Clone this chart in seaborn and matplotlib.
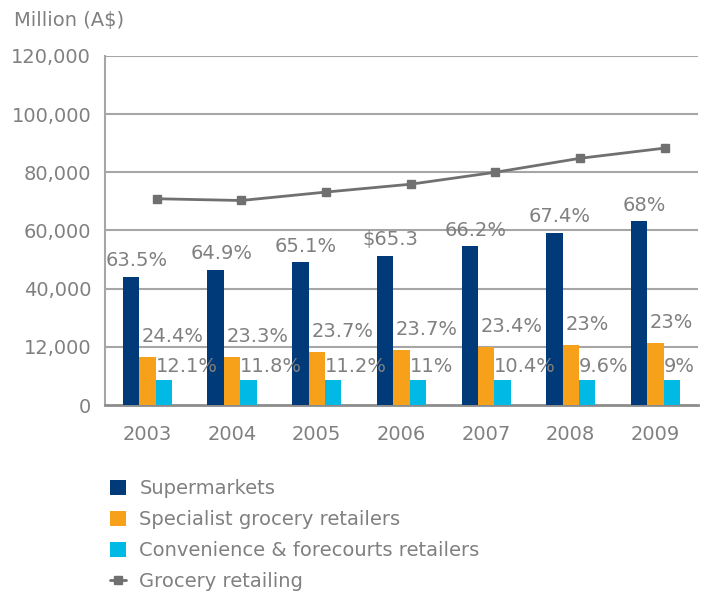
import matplotlib
matplotlib.use("Agg")
import matplotlib.pyplot as plt
from matplotlib.patches import Patch
from matplotlib.lines import Line2D
import seaborn as sns
import pandas as pd
import numpy as np

# data
years = ["2003", "2004", "2005", "2006", "2007", "2008", "2009"]
supermarkets = [44100, 46500, 49000, 51400, 54500, 59300, 63100]
specialist = [16500, 16500, 18300, 19000, 19800, 20700, 21400]
convenience = [8600, 8600, 8600, 8600, 8600, 8600, 8600]
grocery_total = [70900, 70300, 73200, 75900, 80000, 84800, 88300]

sup_labels = ["63.5%", "64.9%", "65.1%", "\\$65.3", "66.2%", "67.4%", "68%"]
spec_labels = ["24.4%", "23.3%", "23.7%", "23.7%", "23.4%", "23%", "23%"]
conv_labels = ["12.1%", "11.8%", "11.2%", "11%", "10.4%", "9.6%", "9%"]

series_names = ["Supermarkets", "Specialist grocery retailers",
                "Convenience & forecourts retailers"]
line_name = "Grocery retailing"
ytick_vals = [0, 20000, 40000, 60000, 80000, 100000, 120000]
ytick_text = ["0", "12,000", "40,000", "60,000", "80,000", "100,000", "120,000"]

colors = ["#003a78", "#f7a11a", "#00b9e4"]
line_color = "#707070"
text_color = "#808080"
grid_color = "#a6a6a6"
fs = 14

sns.set_style("white")
plt.rcParams["font.family"] = ["DejaVu Sans"]

df = pd.DataFrame({
    "year": years * 3,
    "value": supermarkets + specialist + convenience,
    "series": [s for s in series_names for _ in years],
})

fig = plt.figure(figsize=(7.12, 5.94), dpi=100)
ax = fig.add_axes([0.1475, 0.318, 0.8325, 0.588])

sns.barplot(data=df, x="year", y="value", hue="series", palette=colors,
            width=0.58, saturation=1, linewidth=0, legend=False, ax=ax,
            zorder=3)

# the total line sits a little to the right of each bar group
x_line = np.arange(len(years)) + 0.11
ax.plot(x_line, grocery_total, color=line_color, lw=2, marker="s",
        markersize=6, zorder=4)

ax.set_xlim(-0.5, len(years) - 0.5)
ax.set_ylim(0, 120000)
ax.set_yticks(ytick_vals)
ax.set_yticklabels(ytick_text)
for y in ytick_vals[1:]:
    ax.axhline(y, color=grid_color, lw=1.5, zorder=1)

ax.tick_params(axis="both", length=0, labelsize=fs, colors=text_color)
ax.tick_params(axis="y", pad=10)
ax.tick_params(axis="x", pad=14)
ax.set_xlabel("")
ax.set_ylabel("")

for side in ["top", "right"]:
    ax.spines[side].set_visible(False)
ax.spines["left"].set_color(grid_color)
ax.spines["left"].set_linewidth(1.5)
ax.spines["bottom"].set_color("#8c8c8c")
ax.spines["bottom"].set_linewidth(2)

# percentage labels
for bar, lab in zip(ax.containers[0], sup_labels):
    ax.annotate(lab, (bar.get_x() + bar.get_width() / 2, bar.get_height()),
                xytext=(4, 5), textcoords="offset points", ha="center",
                va="bottom", fontsize=fs, color=text_color)
for bar, lab in zip(ax.containers[1], spec_labels):
    ax.annotate(lab, (bar.get_x(), bar.get_height()),
                xytext=(2, 8), textcoords="offset points", ha="left",
                va="bottom", fontsize=fs, color=text_color)
for bar, lab in zip(ax.containers[2], conv_labels):
    ax.annotate(lab, (bar.get_x(), bar.get_height()),
                xytext=(0, 3), textcoords="offset points", ha="left",
                va="bottom", fontsize=fs, color=text_color)

fig.text(0.02, 0.965, "Million (A\\$)", fontsize=fs, color=text_color,
         ha="left", va="center")

handles = [Patch(facecolor=c, edgecolor="none") for c in colors]
handles.append(Line2D([0], [0], color=line_color, lw=2, marker="s",
                      markersize=6))
fig.legend(handles, series_names + [line_name], loc="upper left",
           bbox_to_anchor=(0.141, 0.21), frameon=False, fontsize=fs,
           labelcolor=text_color, handlelength=0.8, handleheight=0.8,
           handletextpad=0.7, labelspacing=0.62, borderpad=0)

fig.savefig("out.png", dpi=100)
